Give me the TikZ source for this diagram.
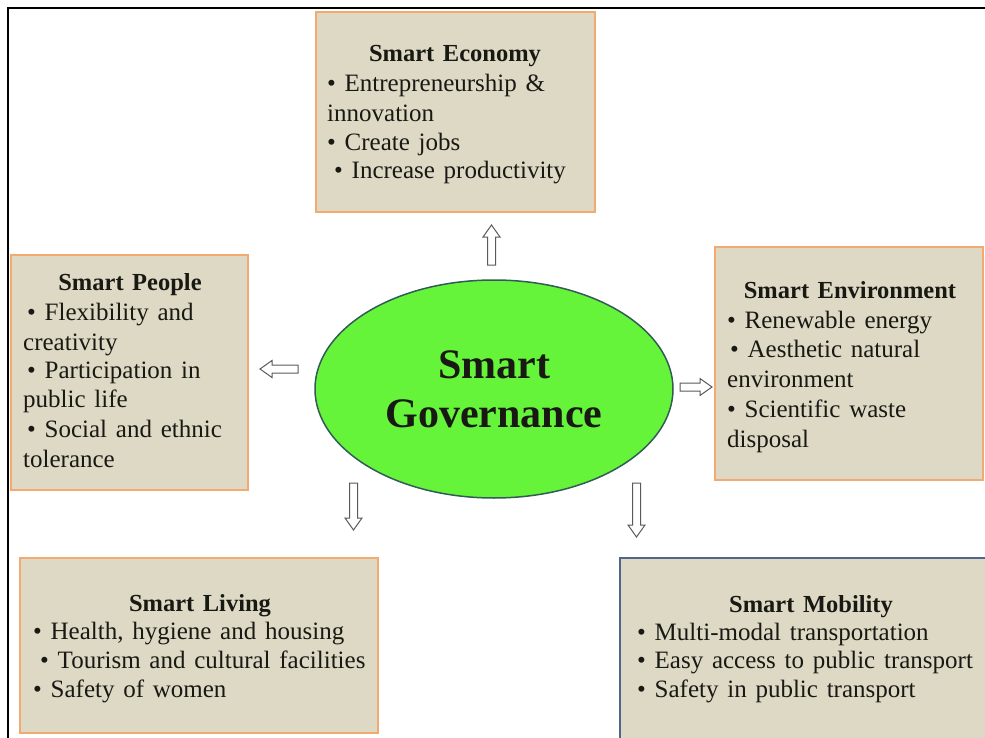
\documentclass[tikz,border=0pt]{standalone}
\usepackage{fontspec}
\setmainfont{Liberation Serif}[WordSpace=1.4]
\usetikzlibrary{shapes.geometric}

\definecolor{boxfill}{RGB}{221,217,197}
\definecolor{boxorange}{RGB}{243,170,112}
\definecolor{boxblue}{RGB}{82,102,140}
\definecolor{govgreen}{RGB}{102,244,58}
\definecolor{govline}{RGB}{48,92,84}
\definecolor{arrowgray}{RGB}{90,90,90}
\definecolor{inktext}{RGB}{25,25,20}

\begin{document}
\begin{tikzpicture}[x=1pt, y=-1pt,
  box/.style={draw=boxorange, line width=2, fill=boxfill, inner sep=0, rectangle},
  bluebox/.style={box, draw=boxblue},
  title/.style={font=\fontsize{24.5}{24.5}\selectfont\bfseries, text=inktext, anchor=base, inner sep=0},
  item/.style={font=\fontsize{25}{25}\selectfont, text=inktext, anchor=base west, inner sep=0},
  hollow/.style={draw=arrowgray, fill=white, line width=1, line join=miter},
  pics/hollowarrow/.style={code={
    \draw[hollow] (0,-4) -- (#1-12,-4) -- (#1-12,-8.5) -- (#1,0)
                  -- (#1-12,8.5) -- (#1-12,4) -- (0,4) -- cycle;}}
]
\useasboundingbox (0,0) rectangle (985,738);

% frame along the top and left edges
\draw[line width=2.2] (8,738) -- (8,8) -- (985,8);

% the five boxes
\node[box, minimum width=279, minimum height=200] (econ) at (455.5,112) {};
\node[box, minimum width=237, minimum height=235] (people) at (129.5,372.5) {};
\node[box, minimum width=268, minimum height=233] (env) at (849,363.5) {};
\node[box, minimum width=358, minimum height=175] (living) at (199,645.5) {};
\node[bluebox, minimum width=372, minimum height=188] (mobility) at (806,652) {};

% central ellipse
\node[ellipse, draw=govline, line width=1.5, fill=govgreen,
      minimum width=358, minimum height=218, inner sep=0,
      font=\fontsize{42}{49}\selectfont\bfseries, text=inktext, align=center]
      (gov) at (494,389) {Smart\\Governance};

% hollow block arrows around the ellipse
\pic[rotate=90]  (toecon)   at (491.5,265) {hollowarrow=40};
\pic[rotate=180] (topeople) at (298,369)   {hollowarrow=38};
\pic             (toenv)    at (680,387)   {hollowarrow=32};
\pic[rotate=-90] (toliving) at (353.5,483) {hollowarrow=47};
\pic[rotate=-90] (tomob)    at (636.5,483) {hollowarrow=54};

% Smart Economy
\node[title] (ect) at (455,62) {Smart Economy};
\node[item] (ec1) at (327,92)  {• Entrepreneurship \&};
\node[item] (ec2) at (327,122) {innovation};
\node[item] (ec3) at (327,151) {• Create jobs};
\node[item] (ec4) at (334,179) {• Increase productivity};

% Smart People
\node[title] (pet) at (130,290) {Smart People};
\node[item] (pe1) at (27,320) {• Flexibility and};
\node[item] (pe2) at (23,350) {creativity};
\node[item] (pe3) at (27,378) {• Participation in};
\node[item] (pe4) at (23,407) {public life};
\node[item] (pe5) at (27,437) {• Social and ethnic};
\node[item] (pe6) at (23,467) {tolerance};

% Smart Environment
\node[title] (ent) at (850,298) {Smart Environment};
\node[item] (en1) at (727,328) {• Renewable energy};
\node[item] (en2) at (730,357) {• Aesthetic natural};
\node[item] (en3) at (727,387) {environment};
\node[item] (en4) at (727,417) {• Scientific waste};
\node[item] (en5) at (727,447) {disposal};

% Smart Living
\node[title] (lit) at (200,611) {Smart Living};
\node[item] (li1) at (33,639) {• Health, hygiene and housing};
\node[item] (li2) at (40,668) {• Tourism and cultural facilities};
\node[item] (li3) at (33,697) {• Safety of women};

% Smart Mobility
\node[title] (mot) at (811,612) {Smart Mobility};
\node[item] (mo1) at (637,640) {• Multi-modal transportation};
\node[item] (mo2) at (637,668) {• Easy access to public transport};
\node[item] (mo3) at (637,697) {• Safety in public transport};
\end{tikzpicture}
\end{document}
